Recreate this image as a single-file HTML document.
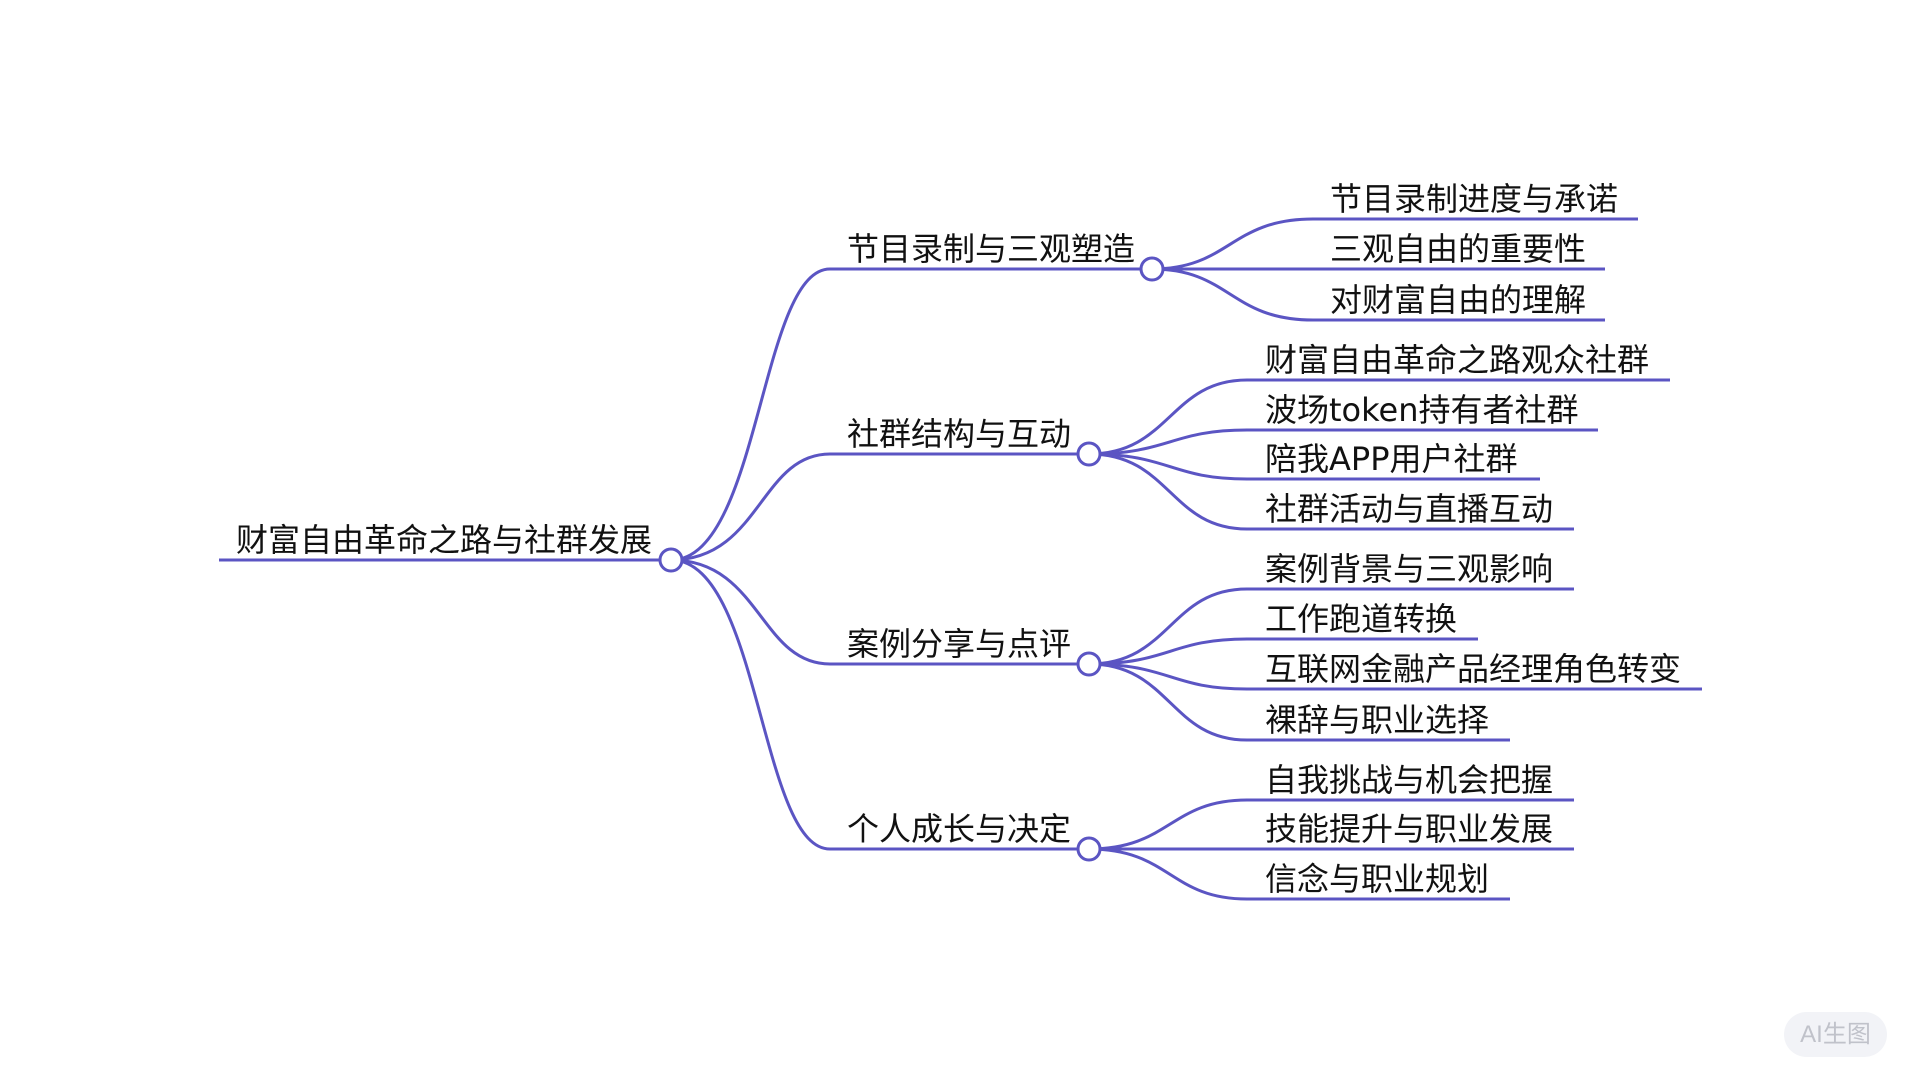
<!DOCTYPE html>
<html><head><meta charset="utf-8"><style>
html,body{margin:0;padding:0;background:#fff;width:1920px;height:1080px;overflow:hidden}
svg text{font-family:"DejaVu Sans","Liberation Sans","Noto Sans CJK SC",sans-serif;font-size:32px;fill:#111}
.badge{position:absolute;left:1784px;top:1012px;width:103px;height:45px;border-radius:23px;background:#f2f3f7;color:#c0c2ca;font:24px "Liberation Sans","Noto Sans CJK SC",sans-serif;text-align:center;line-height:45px}
</style></head><body>
<svg width="1920" height="1080" xmlns="http://www.w3.org/2000/svg">
<g fill="none" stroke="#5b55c3" stroke-width="3">
<line x1="219" y1="560" x2="660" y2="560"/>
<path d="M671 560 C760 560 760 269 830 269"/>
<path d="M671 560 C760 560 760 454 830 454"/>
<path d="M671 560 C760 560 760 664 830 664"/>
<path d="M671 560 C760 560 760 849 830 849"/>
<line x1="830" y1="269" x2="1141" y2="269"/>
<line x1="830" y1="454" x2="1078" y2="454"/>
<line x1="830" y1="664" x2="1078" y2="664"/>
<line x1="830" y1="849" x2="1078" y2="849"/>
<path d="M1152 269 C1230 269 1230 219 1313 219"/>
<path d="M1152 269 L1313 269"/>
<path d="M1152 269 C1230 269 1230 320 1313 320"/>
<line x1="1313" y1="219" x2="1638" y2="219"/>
<line x1="1313" y1="269" x2="1605" y2="269"/>
<line x1="1313" y1="320" x2="1605" y2="320"/>
<path d="M1089 454 C1170 454 1170 380 1247 380"/>
<path d="M1089 454 C1170 454 1170 430 1247 430"/>
<path d="M1089 454 C1170 454 1170 479 1247 479"/>
<path d="M1089 454 C1170 454 1170 529 1247 529"/>
<line x1="1247" y1="380" x2="1670" y2="380"/>
<line x1="1247" y1="430" x2="1598" y2="430"/>
<line x1="1247" y1="479" x2="1540" y2="479"/>
<line x1="1247" y1="529" x2="1574" y2="529"/>
<path d="M1089 664 C1170 664 1170 589 1247 589"/>
<path d="M1089 664 C1170 664 1170 639 1247 639"/>
<path d="M1089 664 C1170 664 1170 689 1247 689"/>
<path d="M1089 664 C1170 664 1170 740 1247 740"/>
<line x1="1247" y1="589" x2="1574" y2="589"/>
<line x1="1247" y1="639" x2="1478" y2="639"/>
<line x1="1247" y1="689" x2="1702" y2="689"/>
<line x1="1247" y1="740" x2="1510" y2="740"/>
<path d="M1089 849 C1170 849 1170 800 1247 800"/>
<path d="M1089 849 L1247 849"/>
<path d="M1089 849 C1170 849 1170 899 1247 899"/>
<line x1="1247" y1="800" x2="1574" y2="800"/>
<line x1="1247" y1="849" x2="1574" y2="849"/>
<line x1="1247" y1="899" x2="1510" y2="899"/>
</g>
<g fill="#fff" stroke="#5b55c3" stroke-width="3">
<circle cx="671" cy="560" r="11"/>
<circle cx="1152" cy="269" r="11"/>
<circle cx="1089" cy="454" r="11"/>
<circle cx="1089" cy="664" r="11"/>
<circle cx="1089" cy="849" r="11"/>
</g>
<text x="236" y="551">财富自由革命之路与社群发展</text>
<text x="847" y="260">节目录制与三观塑造</text>
<text x="847" y="445">社群结构与互动</text>
<text x="847" y="655">案例分享与点评</text>
<text x="847" y="840">个人成长与决定</text>
<text x="1330" y="210">节目录制进度与承诺</text>
<text x="1330" y="260">三观自由的重要性</text>
<text x="1330" y="311">对财富自由的理解</text>
<text x="1265" y="371">财富自由革命之路观众社群</text>
<text x="1265" y="421">波场token持有者社群</text>
<text x="1265" y="470">陪我APP用户社群</text>
<text x="1265" y="520">社群活动与直播互动</text>
<text x="1265" y="580">案例背景与三观影响</text>
<text x="1265" y="630">工作跑道转换</text>
<text x="1265" y="680">互联网金融产品经理角色转变</text>
<text x="1265" y="731">裸辞与职业选择</text>
<text x="1265" y="791">自我挑战与机会把握</text>
<text x="1265" y="840">技能提升与职业发展</text>
<text x="1265" y="890">信念与职业规划</text>
</svg>
<div class="badge">AI生图</div>
</body></html>
